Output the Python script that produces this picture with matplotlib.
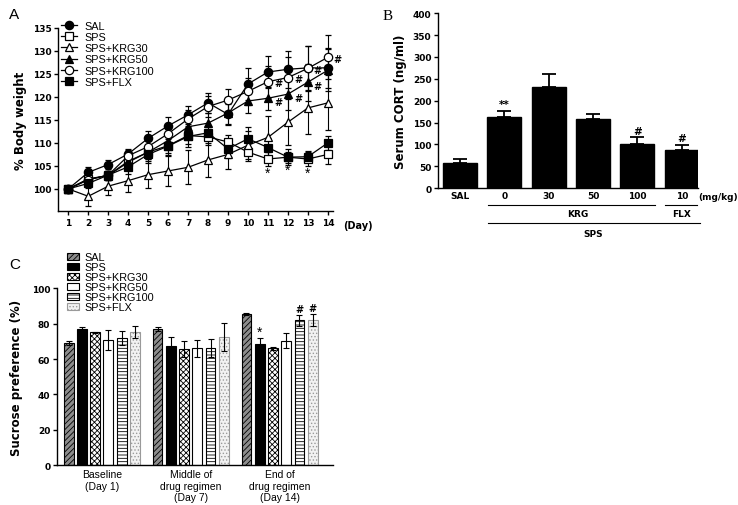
import numpy as np
import matplotlib
matplotlib.use("Agg")
import matplotlib.pyplot as plt
import matplotlib.transforms as mtransforms
from matplotlib.lines import Line2D

# =========================
# DATI
# =========================

days = list(range(1, 15))
groups = ["SAL", "SPS", "SPS+KRG30", "SPS+KRG50", "SPS+KRG100", "SPS+FLX"]

# Figura A: % peso corporeo (media, SEM)
bw_mean = {
    "SAL":        [100, 103.6, 105.3, 107.6, 111.0, 113.7, 116.1, 118.7, 116.2, 122.8, 125.4, 126.0, 126.3, 126.3],
    "SPS":        [100, 102.2, 102.9, 105.8, 108.0, 109.4, 111.6, 111.3, 110.2, 108.0, 106.5, 106.9, 106.5, 107.5],
    "SPS+KRG30":  [100, 98.4, 100.6, 101.8, 103.1, 103.9, 104.7, 106.3, 107.5, 109.5, 111.2, 114.5, 117.6, 118.7],
    "SPS+KRG50":  [100, 102.0, 103.0, 106.0, 108.0, 110.5, 113.5, 114.3, 116.5, 119.1, 119.7, 120.6, 123.2, 125.8],
    "SPS+KRG100": [100, 102.0, 103.0, 107.2, 109.2, 112.0, 115.2, 117.9, 119.3, 121.2, 123.3, 124.2, 126.2, 128.6],
    "SPS+FLX":    [100, 101.2, 103.0, 104.8, 107.5, 109.3, 111.4, 112.2, 108.7, 110.9, 109.0, 106.9, 107.0, 110.0],
}
bw_sem = {
    "SAL":        [0, 1.1, 1.0, 1.0, 1.5, 1.9, 2.0, 2.1, 2.3, 3.5, 3.4, 4.0, 4.8, 4.3],
    "SPS":        [0, 1.0, 1.0, 1.2, 1.5, 1.5, 1.8, 1.8, 1.5, 2.0, 1.5, 1.2, 1.5, 2.0],
    "SPS+KRG30":  [0, 2.2, 1.9, 2.5, 2.9, 3.3, 3.7, 3.7, 3.2, 3.0, 4.7, 5.0, 5.7, 6.0],
    "SPS+KRG50":  [0, 1.0, 1.0, 1.3, 1.5, 1.8, 2.0, 2.2, 2.5, 2.5, 2.5, 3.5, 4.0, 4.5],
    "SPS+KRG100": [0, 1.0, 1.0, 1.3, 1.5, 1.8, 2.0, 2.2, 2.4, 3.0, 3.5, 4.5, 4.9, 4.8],
    "SPS+FLX":    [0, 1.0, 1.0, 1.5, 1.8, 2.0, 2.2, 1.5, 2.0, 2.5, 2.0, 1.8, 1.2, 1.5],
}

# Figura B: CORT sierico
cort_labels = ["SAL", "0", "30", "50", "100", "10"]
cort_mean = [57, 162, 231, 158, 100, 87]
cort_sem = [10, 14, 29, 12, 16, 12]
cort_marks = ["", "**", "", "", "#", "#"]

# Figura C: preferenza saccarosio
phase_labels = ["Baseline\n(Day 1)", "Middle of\ndrug regimen\n(Day 7)", "End of\ndrug regimen\n(Day 14)"]
suc_mean = {
    "SAL":        [69.3, 76.9, 85.5],
    "SPS":        [77.0, 67.4, 68.5],
    "SPS+KRG30":  [75.1, 65.7, 66.0],
    "SPS+KRG50":  [70.8, 66.0, 70.4],
    "SPS+KRG100": [71.7, 66.2, 81.9],
    "SPS+FLX":    [75.1, 72.6, 82.3],
}
suc_sem = {
    "SAL":        [1.2, 1.2, 0.5],
    "SPS":        [1.0, 5.0, 3.5],
    "SPS+KRG30":  [0.5, 4.7, 1.0],
    "SPS+KRG50":  [5.5, 5.0, 4.3],
    "SPS+KRG100": [4.0, 5.0, 3.2],
    "SPS+FLX":    [3.4, 8.0, 3.5],
}

# =========================
# STILE
# =========================

plt.rcParams["font.family"] = ["DejaVu Sans"]
plt.rcParams["axes.linewidth"] = 1.0
plt.rcParams["hatch.linewidth"] = 0.6
TICKFONT = {"family": "DejaVu Sans", "weight": "bold", "size": 6.5}
ARIAL = "Liberation Sans"


def style_axes(ax):
    ax.spines["top"].set_visible(False)
    ax.spines["right"].set_visible(False)
    ax.tick_params(direction="out", length=3, width=1, pad=2)
    for lab in ax.get_xticklabels() + ax.get_yticklabels():
        lab.set_fontfamily(TICKFONT["family"])
        lab.set_fontweight(TICKFONT["weight"])
        lab.set_fontsize(TICKFONT["size"])


fig = plt.figure(figsize=(7.38, 5.06), dpi=100)

# =========================
# FIGURA A
# =========================

axA = fig.add_axes([0.079, 0.581, 0.372, 0.362])

marker_style = {
    "SAL":        dict(marker="o", mfc="black"),
    "SPS":        dict(marker="s", mfc="white"),
    "SPS+KRG30":  dict(marker="^", mfc="white"),
    "SPS+KRG50":  dict(marker="^", mfc="black"),
    "SPS+KRG100": dict(marker="o", mfc="white"),
    "SPS+FLX":    dict(marker="s", mfc="black"),
}

handlesA = []
for g in groups:
    axA.errorbar(days, bw_mean[g], yerr=bw_sem[g], color="black", lw=0.9,
                 elinewidth=0.8, capsize=2.5, capthick=0.8, ms=6, mec="black",
                 mew=0.9, **marker_style[g])
    handlesA.append(Line2D([], [], color="black", lw=0.9, ms=6, mec="black", mew=0.9,
                           label=g, **marker_style[g]))

# significativita
for d in [11, 12, 13]:
    i = d - 1
    axA.text(d, bw_mean["SPS"][i] - bw_sem["SPS"][i] - 1.6, "*", ha="center", va="center",
             fontsize=10, fontfamily=ARIAL)
for d in [11, 12, 13, 14]:
    i = d - 1
    axA.text(d + 0.3, bw_mean["SPS+KRG100"][i] - 0.3, "#", ha="left", va="center",
             fontsize=7, fontweight="bold")
for d in [11, 12, 13]:
    i = d - 1
    axA.text(d + 0.3, bw_mean["SPS+KRG50"][i] - 0.9, "#", ha="left", va="center",
             fontsize=7, fontweight="bold")

axA.set_xlim(0.5, 14.25)
axA.set_ylim(95.2, 135)
axA.set_xticks(days)
axA.set_yticks([100, 105, 110, 115, 120, 125, 130, 135])
axA.set_ylabel("% Body weight", fontsize=8.5, fontweight="bold", labelpad=4)
style_axes(axA)
transA = mtransforms.blended_transform_factory(axA.transData, axA.transAxes)
axA.text(15.5, -0.075, "(Day)", transform=transA, ha="center", va="center",
         fontsize=7, fontweight="bold", clip_on=False)

axA.legend(handles=handlesA, loc="upper left", bbox_to_anchor=(0.01, 1.04), frameon=False,
           handlelength=1.5, handletextpad=0.7, labelspacing=0.12,
           borderpad=0, borderaxespad=0, prop={"family": ARIAL, "size": 7.8})

fig.text(0.012, 0.962, "A", fontsize=11, fontfamily=ARIAL)

# =========================
# FIGURA B
# =========================

axB = fig.add_axes([0.594, 0.626, 0.352, 0.346])
xb = np.arange(len(cort_labels))
axB.bar(xb, cort_mean, width=0.77, color="black", edgecolor="black")
axB.errorbar(xb, cort_mean, yerr=[np.zeros(len(cort_sem)), cort_sem], fmt="none",
             ecolor="black", elinewidth=1.3, capsize=5, capthick=1.3)
for x, m, s, t in zip(xb, cort_mean, cort_sem, cort_marks):
    if t:
        axB.text(x, m + s + 4, t, ha="center", va="bottom", fontsize=7.5, fontweight="bold")

axB.set_xlim(-0.49, 5.37)
axB.set_ylim(0, 400)
axB.set_yticks(range(0, 401, 50))
axB.set_xticks(xb)
axB.set_xticklabels(cort_labels)
axB.set_ylabel("Serum CORT (ng/ml)", fontsize=8.5, fontweight="bold", labelpad=4)
style_axes(axB)
axB.tick_params(axis="x", length=0)

transB = mtransforms.blended_transform_factory(axB.transData, axB.transAxes)
axB.text(5.82, -0.045, "(mg/kg)", transform=transB, ha="center", va="center",
         fontsize=6.5, fontweight="bold", clip_on=False)
axB.plot([0.63, 4.40], [-0.095, -0.095], transform=transB, color="black", lw=0.8, clip_on=False)
axB.plot([4.63, 5.35], [-0.095, -0.095], transform=transB, color="black", lw=0.8, clip_on=False)
axB.plot([0.63, 5.42], [-0.198, -0.198], transform=transB, color="black", lw=0.8, clip_on=False)
axB.text(2.65, -0.147, "KRG", transform=transB, ha="center", va="center",
         fontsize=6.5, fontweight="bold", clip_on=False)
axB.text(5.0, -0.147, "FLX", transform=transB, ha="center", va="center",
         fontsize=6.5, fontweight="bold", clip_on=False)
axB.text(3.0, -0.26, "SPS", transform=transB, ha="center", va="center",
         fontsize=6.5, fontweight="bold", clip_on=False)

fig.text(0.519, 0.96, "B", fontsize=11, fontfamily="Liberation Serif")

# =========================
# FIGURA C
# =========================

axC = fig.add_axes([0.0776, 0.079, 0.3736, 0.349])

bar_style = {
    "SAL":        dict(color="#8c8c8c", edgecolor="black", hatch="//////"),
    "SPS":        dict(color="black", edgecolor="black"),
    "SPS+KRG30":  dict(color="white", edgecolor="black", hatch="xxxxxx"),
    "SPS+KRG50":  dict(color="white", edgecolor="black"),
    "SPS+KRG100": dict(color="white", edgecolor="black", hatch="-----"),
    "SPS+FLX":    dict(color="#f2f2f2", edgecolor="#9a9a9a", hatch="....."),
}

xc = np.arange(len(phase_labels))
step = 0.149
width = 0.11
for k, g in enumerate(groups):
    pos = xc + (k - 2.5) * step
    axC.bar(pos, suc_mean[g], width=width, linewidth=0.8, label=g, **bar_style[g])
    axC.errorbar(pos, suc_mean[g], yerr=suc_sem[g], fmt="none", ecolor="black",
                 elinewidth=0.8, capsize=2.5, capthick=0.8)

# significativita
axC.text(2 + (1 - 2.5) * step, suc_mean["SPS"][2] + suc_sem["SPS"][2] - 0.5, "*",
         ha="center", va="bottom", fontsize=10, fontfamily=ARIAL)
for k in [4, 5]:
    g = groups[k]
    axC.text(2 + (k - 2.5) * step, suc_mean[g][2] + suc_sem[g][2] + 0.3, "#",
             ha="center", va="bottom", fontsize=7, fontweight="bold")

axC.set_xlim(-0.5, 2.6)
axC.set_ylim(0, 100)
axC.set_yticks(range(0, 101, 20))
axC.set_xticks(xc)
axC.set_xticklabels(phase_labels)
axC.set_ylabel("Sucrose preference (%)", fontsize=8.5, fontweight="bold", labelpad=6)
style_axes(axC)
axC.tick_params(axis="x", length=0, pad=3)
for lab in axC.get_xticklabels():
    lab.set_fontfamily(ARIAL)
    lab.set_fontweight("normal")
    lab.set_fontsize(7.5)

axC.legend(loc="upper left", bbox_to_anchor=(0.035, 1.205), frameon=False,
           handlelength=1.1, handleheight=0.7, handletextpad=0.5, labelspacing=0.0,
           borderpad=0, borderaxespad=0, prop={"family": ARIAL, "size": 7.8})

fig.text(0.012, 0.468, "C", fontsize=11, fontfamily=ARIAL)

plt.savefig("out.png", dpi=100)
plt.close()
